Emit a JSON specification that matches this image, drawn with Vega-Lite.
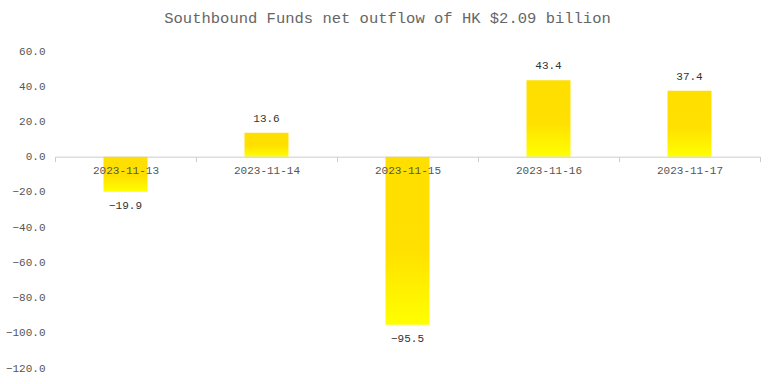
{
  "$schema": "https://vega.github.io/schema/vega-lite/v6.json",
  "autosize": "none",
  "width": 705,
  "height": 317,
  "padding": {"left": 55, "top": 51, "right": 15, "bottom": 16},
  "background": "white",
  "config": {"view": {"stroke": null}, "font": "Liberation Mono"},
  "title": {
    "text": "Southbound Funds net outflow of HK $2.09 billion",
    "font": "Liberation Mono",
    "fontSize": 15.5,
    "fontWeight": "normal",
    "color": "#666666",
    "anchor": "middle",
    "offset": 19,
    "dx": -20
  },
  "data": {
    "values": [
      {"date": "2023-11-13", "value": -19.9},
      {"date": "2023-11-14", "value": 13.6},
      {"date": "2023-11-15", "value": -95.5},
      {"date": "2023-11-16", "value": 43.4},
      {"date": "2023-11-17", "value": 37.4}
    ]
  },
  "encoding": {
    "x": {
      "field": "date",
      "type": "nominal",
      "sort": null,
      "scale": {"paddingInner": 0, "paddingOuter": 0},
      "axis": {
        "title": null,
        "orient": "bottom",
        "offset": -211.33,
        "labelAngle": 0,
        "tickBand": "extent",
        "domainColor": "#cccccc",
        "tickColor": "#cccccc",
        "tickSize": 5,
        "labelPadding": 3,
        "labelFont": "Liberation Mono",
        "labelFontSize": 11,
        "labelColor": "#555555",
        "zindex": 1
      }
    },
    "y": {
      "field": "value",
      "type": "quantitative",
      "scale": {"domain": [-120, 60], "nice": false},
      "axis": {
        "title": null,
        "values": [-120, -100, -80, -60, -40, -20, 0, 20, 40, 60],
        "format": ".1f",
        "domain": false,
        "ticks": false,
        "grid": false,
        "labelPadding": 10,
        "labelFont": "Liberation Mono",
        "labelFontSize": 11,
        "labelColor": "#555555"
      }
    }
  },
  "layer": [
    {
      "mark": {
        "type": "bar",
        "width": {"band": 0.312},
        "fill": {
          "gradient": "linear",
          "x1": 0, "y1": 0, "x2": 0, "y2": 1,
          "stops": [
            {"offset": 0, "color": "#FFDF00"},
            {"offset": 0.55, "color": "#FFE000"},
            {"offset": 1, "color": "#FFFF00"}
          ]
        }
      }
    },
    {
      "transform": [{"filter": "datum.value >= 0"}],
      "mark": {"type": "text", "dy": -14, "font": "Liberation Mono", "fontSize": 11, "color": "#333333", "baseline": "middle"},
      "encoding": {"text": {"field": "value", "type": "quantitative", "format": ".1f"}}
    },
    {
      "transform": [{"filter": "datum.value < 0"}],
      "mark": {"type": "text", "dy": 14, "font": "Liberation Mono", "fontSize": 11, "color": "#333333", "baseline": "middle"},
      "encoding": {"text": {"field": "value", "type": "quantitative", "format": ".1f"}}
    }
  ]
}
